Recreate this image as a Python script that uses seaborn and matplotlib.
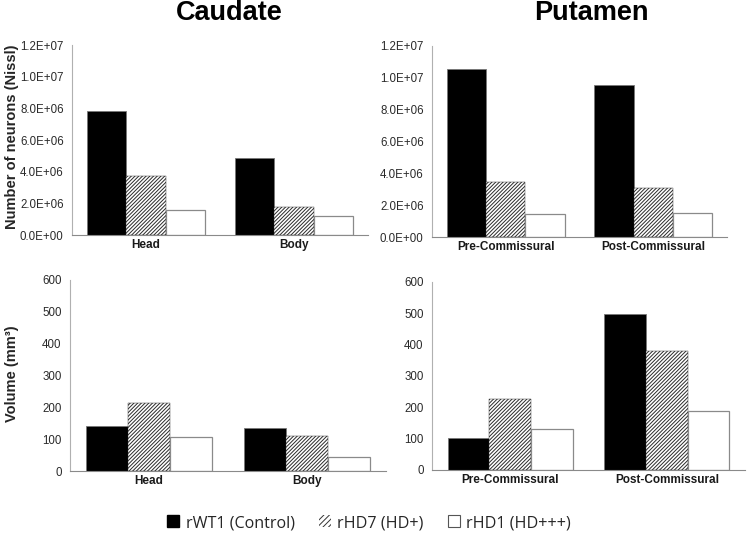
import numpy as np
import pandas as pd
import matplotlib
matplotlib.use("Agg")
import matplotlib.pyplot as plt
import seaborn as sns
from matplotlib.patches import Patch
from matplotlib.ticker import FuncFormatter

# Data
groups = ['rWT1 (Control)', 'rHD7 (HD+)', 'rHD1 (HD+++)']
caudate_regions = ['Head', 'Body']
putamen_regions = ['Pre-Commissural', 'Post-Commissural']

caudate_neurons = {'rWT1 (Control)': [7.83e6, 4.86e6],
                   'rHD7 (HD+)': [3.73e6, 1.77e6],
                   'rHD1 (HD+++)': [1.58e6, 1.23e6]}
putamen_neurons = {'rWT1 (Control)': [10.55e6, 9.55e6],
                   'rHD7 (HD+)': [3.47e6, 3.06e6],
                   'rHD1 (HD+++)': [1.46e6, 1.49e6]}
caudate_volume = {'rWT1 (Control)': [142, 135],
                  'rHD7 (HD+)': [215, 111],
                  'rHD1 (HD+++)': [107, 44]}
putamen_volume = {'rWT1 (Control)': [101, 497],
                  'rHD7 (HD+)': [228, 379],
                  'rHD1 (HD+++)': [132, 188]}


def to_long(regions, values):
    rows = []
    for g in groups:
        for r, v in zip(regions, values[g]):
            rows.append({'region': r, 'group': g, 'value': v})
    return pd.DataFrame(rows)


sns.set_style("white")
plt.rcParams['font.family'] = ['Liberation Sans', 'DejaVu Sans']
plt.rcParams['hatch.linewidth'] = 0.7

fig = plt.figure(figsize=(7.47, 5.34), dpi=100)
W, H = 747, 534


def add_ax(left, top, right, bottom):
    return fig.add_axes([left / W, 1 - bottom / H, (right - left) / W, (bottom - top) / H])


ax_tl = add_ax(72, 45, 368, 235)
ax_tr = add_ax(432, 46, 727, 237)
ax_bl = add_ax(70, 280, 386, 471)
ax_br = add_ax(432, 282, 745, 470)

panels = [
    (ax_tl, caudate_regions, caudate_neurons, 1.2e7, 2e6),
    (ax_tr, putamen_regions, putamen_neurons, 1.2e7, 2e6),
    (ax_bl, caudate_regions, caudate_volume, 600, 100),
    (ax_br, putamen_regions, putamen_volume, 600, 100),
]

sci = FuncFormatter(lambda v, p: f"{v:.1E}")

for ax, regions, values, ymax, step in panels:
    df = to_long(regions, values)
    sns.barplot(data=df, x='region', y='value', hue='group', order=regions,
                hue_order=groups, palette=['black', 'white', 'white'],
                width=0.8, ax=ax, legend=False, errorbar=None)
    # style each hue level
    for i, cont in enumerate(ax.containers):
        for bar in cont:
            if i == 0:
                bar.set_facecolor('black')
                bar.set_edgecolor('#777777')
                bar.set_linewidth(0.6)
            elif i == 1:
                bar.set_facecolor('white')
                bar.set_hatch('/////////')
                bar.set_edgecolor('#2a2a2a')
                bar.set_linewidth(0.3)
            else:
                bar.set_facecolor('white')
                bar.set_edgecolor('#8a8a8a')
                bar.set_linewidth(0.9)
    ax.set_ylim(0, ymax)
    ax.set_yticks(np.arange(0, ymax + step / 2, step))
    if ymax > 1000:
        ax.yaxis.set_major_formatter(sci)
    ax.set_xlabel('')
    ax.set_ylabel('')
    ax.tick_params(axis='y', labelsize=8.3, colors='#2a2a2a', length=0, pad=6)
    ax.tick_params(axis='x', labelsize=8.5, colors='#1a1a1a', length=0, pad=3)
    for lab in ax.get_xticklabels():
        lab.set_fontweight('bold')
    for s in ['top', 'right']:
        ax.spines[s].set_visible(False)
    ax.spines['left'].set_color('#b0b0b0')
    ax.spines['bottom'].set_color('#8a8a8a')
    ax.spines['left'].set_linewidth(0.8)
    ax.spines['bottom'].set_linewidth(0.8)

fig.text(229 / W, 1 - 13 / H, 'Caudate', ha='center', va='center',
         fontsize=19.5, fontweight='bold', color='black')
fig.text(591 / W, 1 - 13 / H, 'Putamen', ha='center', va='center',
         fontsize=19.5, fontweight='bold', color='black')
fig.text(12 / W, 1 - 137 / H, 'Number of neurons (Nissl)', ha='center', va='center',
         rotation=90, fontsize=10.5, fontweight='bold')
fig.text(12 / W, 1 - 374 / H, 'Volume (mm³)', ha='center', va='center',
         rotation=90, fontsize=10.5, fontweight='bold')

handles = [Patch(facecolor='black', edgecolor='black'),
           Patch(facecolor='white', edgecolor='#333333', hatch='//////', linewidth=0),
           Patch(facecolor='white', edgecolor='#555555', linewidth=0.8)]
fig.legend(handles, groups, loc='center', bbox_to_anchor=(369 / W, 1 - 523 / H),
           ncol=3, frameon=False, handlelength=0.75, handleheight=0.75,
           handletextpad=0.4, columnspacing=1.5,
           prop={'family': ['Open Sans', 'DejaVu Sans'], 'size': 11.6})

fig.savefig('out.png', dpi=100)
